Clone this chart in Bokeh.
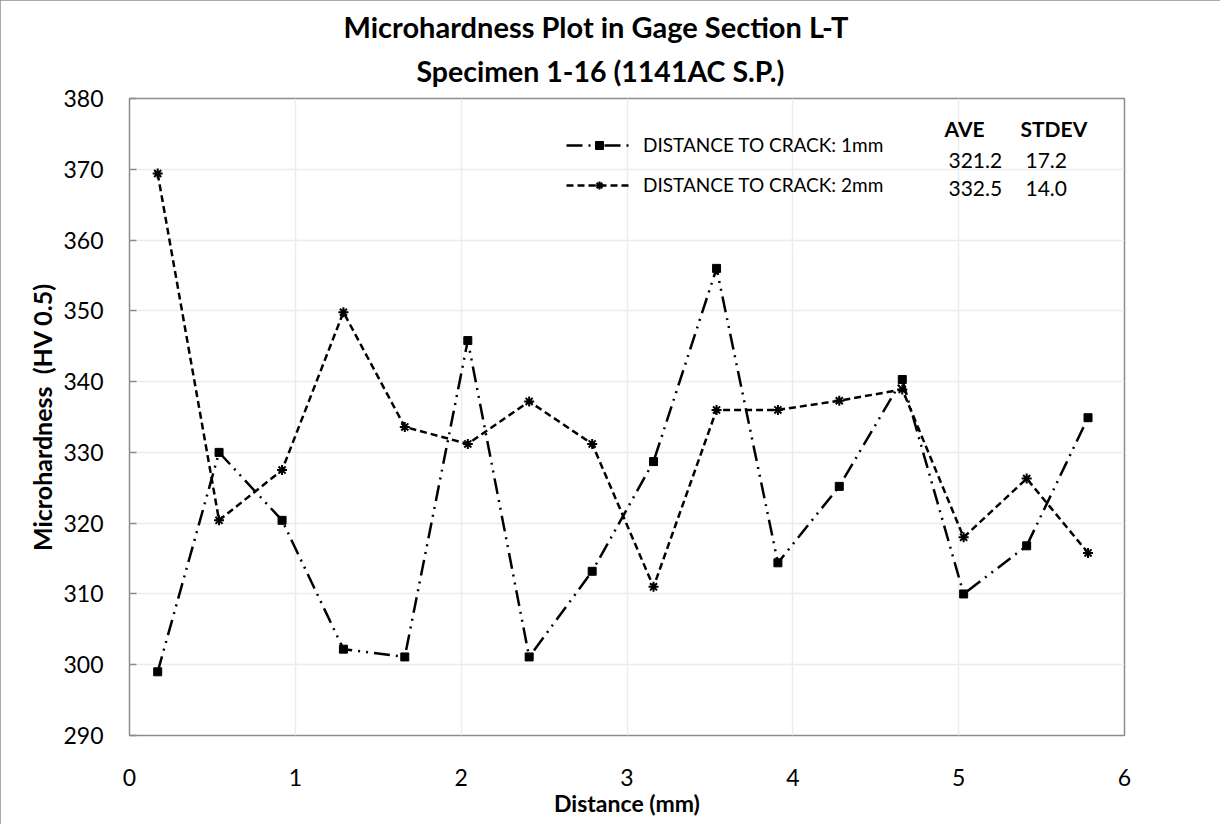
from bokeh.plotting import figure
from bokeh.models import Label, Legend, LegendItem, FixedTicker, Range1d, Title
from bokeh.embed import file_html
from bokeh.resources import INLINE

# ---- data ----
distance = [0.17, 0.54, 0.92, 1.29, 1.66, 2.04, 2.41, 2.79, 3.16, 3.54, 3.91, 4.28, 4.66, 5.03, 5.41, 5.78]
hv_1mm = [299.0, 330.0, 320.4, 302.2, 301.1, 345.8, 301.1, 313.2, 328.7, 356.0, 314.4, 325.2, 340.3, 310.0, 316.8, 334.9]
hv_2mm = [369.4, 320.4, 327.5, 349.8, 333.6, 331.2, 337.2, 331.2, 311.0, 336.0, 336.0, 337.3, 338.9, 318.0, 326.3, 315.8]
series_names = ["DISTANCE TO CRACK: 1mm", "DISTANCE TO CRACK: 2mm"]
stat_headers = ["AVE", "STDEV"]
ave_values = ["321.2", "332.5"]
stdev_values = ["17.2", "14.0"]
x_ticks = [0, 1, 2, 3, 4, 5, 6]
y_ticks = [290, 300, 310, 320, 330, 340, 350, 360, 370, 380]
title_lines = ["Microhardness Plot in Gage Section L-T", "Specimen 1-16 (1141AC S.P.)"]
x_label = "Distance (mm)"
y_label = "Microhardness\u00a0 (HV 0.5)"

FONT = "Lato"
GRID = "#ececec"
FRAME = "#8c8c8c"

p = figure(frame_width=995, frame_height=637,
           x_range=Range1d(0, 6), y_range=Range1d(290, 380),
           output_backend="svg", toolbar_location=None,
           min_border_left=129, min_border_right=96,
           min_border_top=98, min_border_bottom=89,
           background_fill_color="white", border_fill_color="white")
p.styles = {"outline": "2px solid #8c8c8c", "outline-offset": "-2px"}

p.outline_line_color = FRAME
p.outline_line_width = 1.5

p.xaxis.ticker = FixedTicker(ticks=x_ticks)
p.yaxis.ticker = FixedTicker(ticks=y_ticks)
for ax in (p.xaxis, p.yaxis):
    ax.axis_line_color = None
    ax.minor_tick_line_color = None
    ax.major_label_text_font = FONT
    ax.major_label_text_font_size = "23px"
    ax.major_label_text_color = "black"
    ax.axis_label_text_font = FONT
    ax.axis_label_text_font_style = "bold"
    ax.axis_label_text_color = "black"
p.xaxis.axis_label_text_font_size = "23px"
p.yaxis.axis_label_text_font_size = "25px"
p.xaxis.major_tick_line_color = None
p.xaxis.major_label_standoff = 27
p.xaxis.axis_label = x_label
p.xaxis.axis_label_standoff = 0
p.yaxis.major_tick_in = 7
p.yaxis.major_tick_out = 0
p.yaxis.major_tick_line_color = FRAME
p.yaxis.major_tick_line_width = 1.5
p.yaxis.major_label_standoff = 26
p.yaxis.axis_label = y_label
p.yaxis.axis_label_standoff = 3

p.xgrid.grid_line_color = GRID
p.ygrid.grid_line_color = GRID
p.xgrid.grid_line_width = 1.5
p.ygrid.grid_line_width = 1.5

# series
l1 = p.line(distance, hv_1mm, line_color="black", line_width=2.5, line_dash="16 6 2 6 2 6")
m1 = p.scatter(distance, hv_1mm, marker="square", size=8, fill_color="black", line_color="black")
l2 = p.line(distance, hv_2mm, line_color="black", line_width=2.5, line_dash="7 4")
m2 = p.scatter(distance, hv_2mm, marker="asterisk", size=10, line_color="black", line_width=2)

legend = Legend(items=[LegendItem(label=series_names[0], renderers=[l1, m1]),
                       LegendItem(label=series_names[1], renderers=[l2, m2])],
                location=(437, 539), orientation="vertical",
                glyph_width=66, glyph_height=20, label_height=20, spacing=17,
                padding=0, margin=0, label_standoff=11,
                border_line_color=None, background_fill_alpha=0,
                label_text_font=FONT, label_text_font_size="19px",
                label_text_color="black")
p.add_layout(legend)

# title lines (closest to the frame is added first)
p.add_layout(Title(text=title_lines[1], align="left", offset=287, standoff=21,
                   text_font=FONT, text_font_style="bold", text_font_size="28.5px",
                   text_color="black"), "above")
p.add_layout(Title(text=title_lines[0], align="left", offset=214, standoff=-4,
                   text_font=FONT, text_font_style="bold", text_font_size="29px",
                   text_color="black"), "above")

# statistics table
p.add_layout(Label(x=815, y=607, x_units="screen", y_units="screen", text=stat_headers[0],
                   text_baseline="alphabetic", text_font=FONT, text_font_style="bold",
                   text_font_size="21px", text_color="black"))
p.add_layout(Label(x=891, y=607, x_units="screen", y_units="screen", text=stat_headers[1],
                   text_baseline="alphabetic", text_font=FONT, text_font_style="bold",
                   text_font_size="21px", text_color="black"))
for i, y in enumerate([575.5, 547.5]):
    p.add_layout(Label(x=819, y=y, x_units="screen", y_units="screen", text=ave_values[i],
                       text_baseline="alphabetic", text_font=FONT,
                       text_font_size="21px", text_color="black"))
    p.add_layout(Label(x=896, y=y, x_units="screen", y_units="screen", text=stdev_values[i],
                       text_baseline="alphabetic", text_font=FONT,
                       text_font_size="21px", text_color="black"))

open("out.html", "w").write(file_html(p, INLINE))
